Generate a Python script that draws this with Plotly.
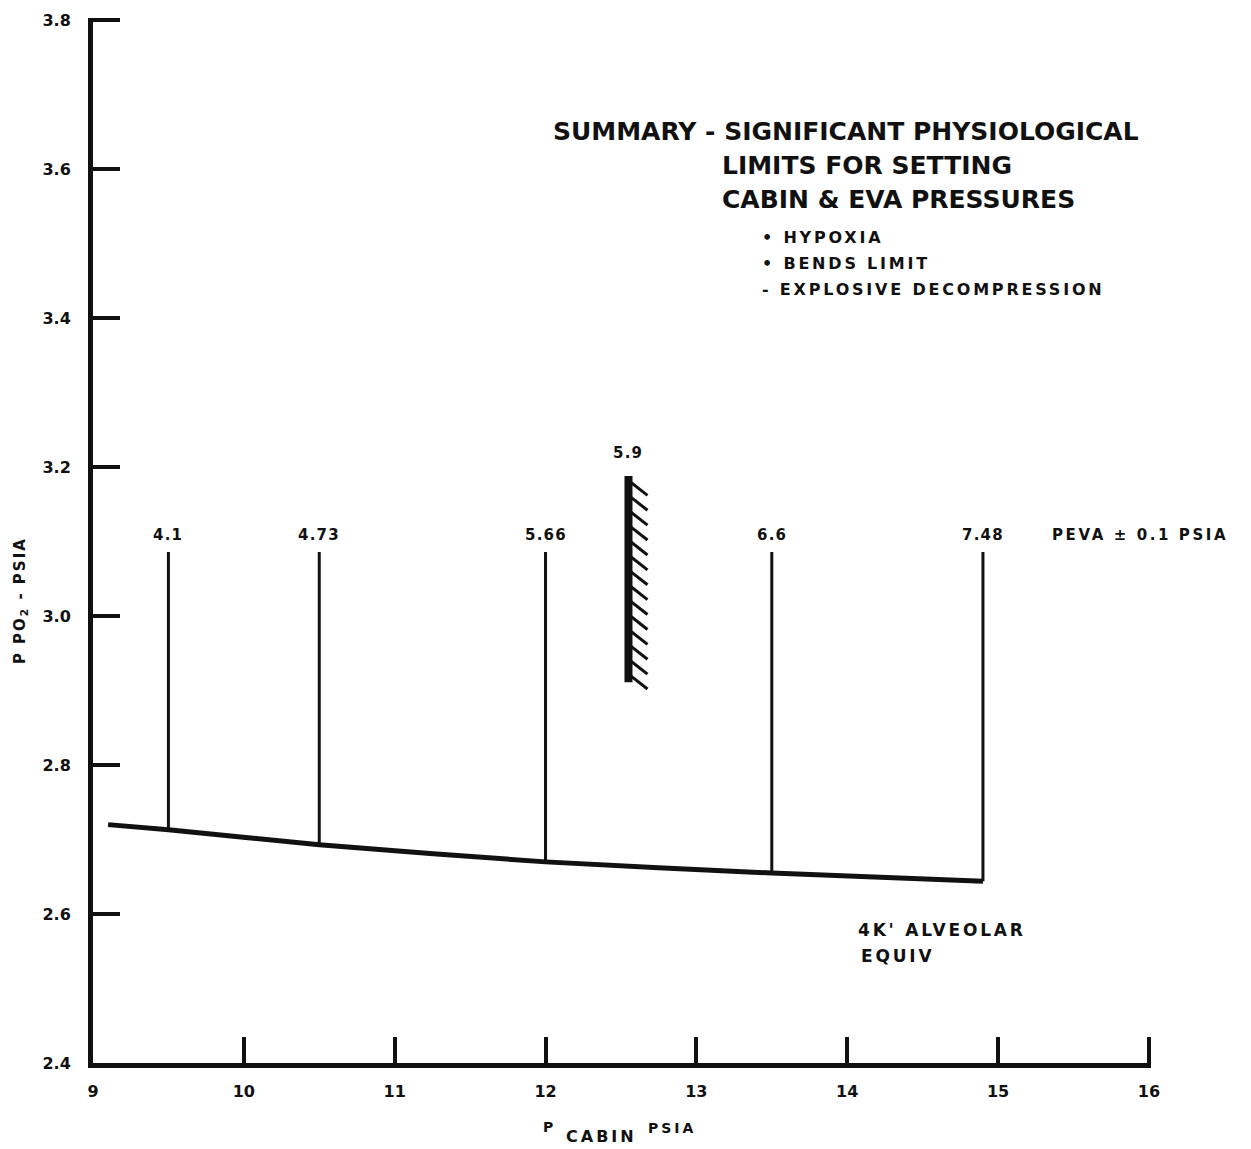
import plotly.graph_objects as go

# Cabin pressure (psia) vs. ppO2 for a 4,000 ft alveolar equivalent
cabin_psia = [9.1, 9.5, 10.5, 12.0, 13.5, 14.9]
alveolar_ppo2 = [2.720, 2.713, 2.693, 2.670, 2.655, 2.644]

# EVA suit pressures (psia) marked at selected cabin pressures
eva_cabin_psia = [9.5, 10.5, 12.0, 13.5, 14.9]
eva_base_ppo2 = [2.713, 2.693, 2.670, 2.655, 2.644]
eva_top_ppo2 = 3.086
eva_labels = ["4.1", "4.73", "5.66", "6.6", "7.48"]

# Bends limit marker
bends_cabin_psia = 12.55
bends_ppo2_range = [2.911, 3.188]
bends_label = "5.9"

x_ticks = [9, 10, 11, 12, 13, 14, 15, 16]
y_ticks = [2.4, 2.6, 2.8, 3.0, 3.2, 3.4, 3.6, 3.8]

FONT = "DejaVu Sans"
INK = "#111111"

# axis ranges carry a hair of slack so the end ticks (16, 3.8) are still drawn
X_RANGE = [9, 16.014]
Y_RANGE = [2.4, 3.8028]

# plot-area geometry (px) used to place free text in paper coordinates
W, H = 1251, 1149
ML, MR, MT, MB = 93, 100, 11, 86
PW, PH = W - ML - MR, H - MT - MB


def px_x(px):
    return (px - ML) / PW


def px_y(py):
    return (H - MB - py) / PH


def spaced(text, ls):
    return f'<span style="letter-spacing:{ls}px">{text}</span>'


fig = go.Figure()

# alveolar-equivalent curve
fig.add_trace(go.Scatter(
    x=cabin_psia, y=alveolar_ppo2, mode="lines",
    line=dict(color=INK, width=5, shape="spline", smoothing=0.5),
    hoverinfo="skip",
))

# vertical EVA-pressure lines rising from the curve
vx, vy = [], []
for cx, base in zip(eva_cabin_psia, eva_base_ppo2):
    vx += [cx, cx, None]
    vy += [base, eva_top_ppo2, None]
fig.add_trace(go.Scatter(
    x=vx, y=vy, mode="lines",
    line=dict(color=INK, width=3), hoverinfo="skip",
))

# bends limit bar with hatching on its right side
n_hatch = 14
lo, hi = bends_ppo2_range
top_start = hi - 0.006
bot_start = lo + 0.011
step = (top_start - bot_start) / (n_hatch - 1)
hx, hy = [], []
for k in range(n_hatch):
    y0 = top_start - k * step
    hx += [bends_cabin_psia, bends_cabin_psia + 0.126, None]
    hy += [y0, y0 - 0.02, None]
fig.add_trace(go.Scatter(
    x=hx, y=hy, mode="lines",
    line=dict(color=INK, width=3), hoverinfo="skip",
))
fig.add_trace(go.Scatter(
    x=[bends_cabin_psia, bends_cabin_psia], y=bends_ppo2_range, mode="lines",
    line=dict(color=INK, width=8), hoverinfo="skip",
))

annotations = []

# value labels above each EVA line and the bends bar
for cx, lab in zip(eva_cabin_psia, eva_labels):
    annotations.append(dict(
        x=cx, y=eva_top_ppo2, xref="x", yref="y", text=spaced(lab, 1.2),
        showarrow=False, xanchor="center", yanchor="middle", yshift=17,
        font=dict(family=FONT, size=15, color=INK, weight="bold"),
    ))
annotations.append(dict(
    x=bends_cabin_psia, y=bends_ppo2_range[1], xref="x", yref="y",
    text=spaced(bends_label, 1.2), showarrow=False,
    xanchor="center", yanchor="middle", yshift=23,
    font=dict(family=FONT, size=15, color=INK, weight="bold"),
))


def label(text, px, py, size, ls=0, anchor="left", angle=0):
    annotations.append(dict(
        x=px_x(px), y=px_y(py), xref="paper", yref="paper",
        text=spaced(text, ls) if ls else text, showarrow=False,
        xanchor=anchor, yanchor="middle", textangle=angle,
        font=dict(family=FONT, size=size, color=INK, weight="bold"),
    ))


# summary block
label("SUMMARY - SIGNIFICANT PHYSIOLOGICAL", 551, 125, 25)
label("LIMITS FOR SETTING", 720, 159, 25)
label("CABIN &amp; EVA PRESSURES", 720, 194, 25)
label("• HYPOXIA", 760, 232, 16, 2.8)
label("• BENDS LIMIT", 760, 258, 16, 2.8)
label("- EXPLOSIVE DECOMPRESSION", 760, 284, 16, 2.8)

# side notes
label("PEVA ± 0.1 PSIA", 1050, 531, 15, 2.6)
label("4K' ALVEOLAR", 856, 929, 17, 2.8)
label("EQUIV", 859, 955, 17, 2.8)

# axis titles
label("P PO<sub>2</sub> - PSIA", 20, 598, 15, 2.0, anchor="center", angle=-90)
label("P", 548, 1127, 14, 0, anchor="center")
label("CABIN", 601, 1137, 16, 3.0, anchor="center")
label("PSIA", 672, 1128, 14, 3.0, anchor="center")

axis_common = dict(
    showgrid=False, zeroline=False, showline=True, linewidth=5,
    linecolor=INK, ticks="inside", tickwidth=4, tickcolor=INK,
    tickfont=dict(family=FONT, size=16, color=INK, weight="bold"),
    fixedrange=True,
)

fig.update_layout(
    width=W, height=H,
    margin=dict(l=ML, r=MR, t=MT, b=MB, pad=0),
    paper_bgcolor="white", plot_bgcolor="white",
    showlegend=False, hovermode=False,
    xaxis=dict(range=X_RANGE, tickvals=x_ticks, tickformat="d",
               ticklen=26, ticklabelstandoff=10, **axis_common),
    yaxis=dict(range=Y_RANGE, tickvals=y_ticks, tickformat=".1f",
               ticklen=27, ticklabelstandoff=14, **axis_common),
    annotations=annotations,
)

fig.write_html("out.html")
